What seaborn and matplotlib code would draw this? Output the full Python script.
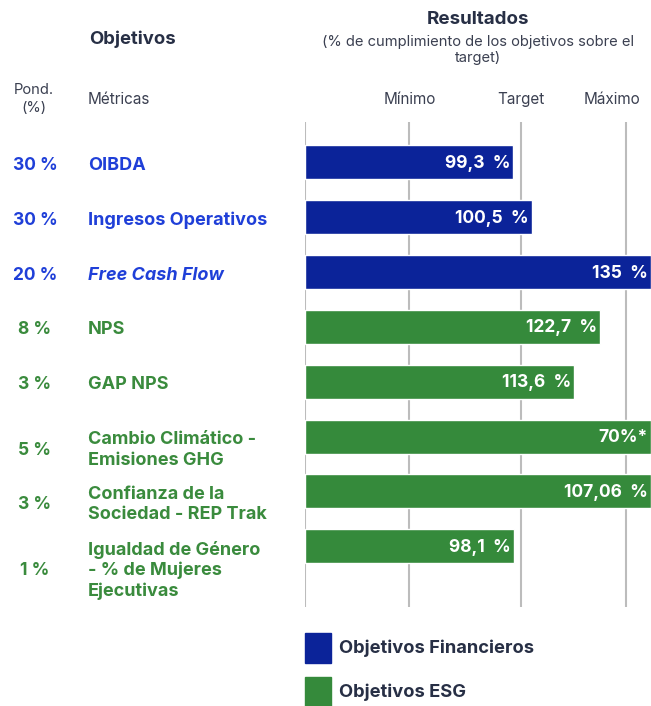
import numpy as np
import pandas as pd
import matplotlib
matplotlib.use("Agg")
import matplotlib.pyplot as plt
from matplotlib.patches import Rectangle
from matplotlib.transforms import blended_transform_factory, ScaledTranslation
import seaborn as sns

# ---- data -------------------------------------------------------------
metricas = [
    "OIBDA",
    "Ingresos Operativos",
    "Free Cash Flow",
    "NPS",
    "GAP NPS",
    "Cambio Climático -\nEmisiones GHG",
    "Confianza de la\nSociedad - REP Trak",
    "Igualdad de Género\n- % de Mujeres\nEjecutivas",
]
ponderacion = [30, 30, 20, 8, 3, 5, 3, 1]
grupo = ["Objetivos Financieros"] * 3 + ["Objetivos ESG"] * 5
# result as % of target
resultado = [99.3, 100.5, 135, 122.7, 113.6, 70, 107.06, 98.1]
nota = ["", "", "", "", "", "*", "", ""]
# payout thresholds per metric (% of target); emissions: lower is better
umbral_min = [90, 95, 80, 80, 80, 110, 95, 70]
umbral_max = [110, 105, 120, 130, 127, 90, 105, 110]
escala = ["Mínimo", "Target", "Máximo"]

# ---- layout (pixels of a 651 x 706 canvas) -----------------------------
W, H = 651, 706
AX_LEFT, AX_TOP, AX_BOTTOM = 305, 122, 607
GRID_POS = [0, 104, 216, 321]      # base, Mínimo, Target, Máximo
X_END = W - AX_LEFT                 # bars past Máximo run to the edge

C_NAVY = "#272f45"
C_GREY = "#3b4051"
C_BLUE_TXT = "#1f3fd8"
C_GREEN_TXT = "#3a8b3d"
C_BAR = {"Objetivos Financieros": "#0b2399", "Objetivos ESG": "#358a3b"}
C_GRID = "#bcbcbc"


def posicion(v, lo, hi):
    """Place a result on the Mínimo/Target/Máximo scale of its metric."""
    sign = 1 if hi > lo else -1
    return float(np.interp(sign * v, [sign * lo, sign * 100, sign * hi],
                           GRID_POS[1:], left=GRID_POS[0], right=X_END))


df = pd.DataFrame({
    "metrica": metricas,
    "grupo": grupo,
    "pos": [posicion(v, lo, hi) for v, lo, hi in zip(resultado, umbral_min, umbral_max)],
})

sns.set_style("white")
plt.rcParams["font.family"] = ["Inter", "DejaVu Sans"]

fig = plt.figure(figsize=(W / 100, H / 100), dpi=100)
fig.patch.set_facecolor("white")


def fx(x):
    return x / W


def fy(y):
    return 1 - y / H


def px(n):
    """Offset of n pixels in inches (figure is drawn at 100 dpi)."""
    return n / 100


ax = fig.add_axes([fx(AX_LEFT), fy(AX_BOTTOM), (W - AX_LEFT) / W,
                   (AX_BOTTOM - AX_TOP) / H])

# guide lines behind the bars
for g in GRID_POS:
    ax.axvline(g, color=C_GRID, lw=1.5, zorder=0)

sns.barplot(data=df, y="metrica", x="pos", hue="grupo", order=metricas,
            palette=C_BAR, dodge=False, width=0.62, saturation=1,
            legend=False, ax=ax, zorder=2)

ax.set_xlim(0, X_END)
pitch = 54.85
first = 162.3
ax.set_ylim((AX_BOTTOM - first) / pitch, (AX_TOP - first) / pitch)
ax.set_axis_off()

# value labels inside the bar ends
shift_left = ScaledTranslation(-px(3), -px(1), fig.dpi_scale_trans)
for i, (v, n, p) in enumerate(zip(resultado, nota, df["pos"])):
    num = f"{v:g}".replace(".", ",")
    txt = f"{num}%{n}" if n else f"{num}  %"
    ax.text(p, i, txt, ha="right", va="center", color="white",
            fontsize=12.5, fontweight="bold", zorder=3,
            transform=ax.transData + shift_left)

# left-hand columns: weight and metric name
line_px = 21
trans_left = blended_transform_factory(fig.transFigure, ax.transData)
for i, (m, w, g) in enumerate(zip(metricas, ponderacion, grupo)):
    n_lines = m.count("\n") + 1
    col = C_BLUE_TXT if g == "Objetivos Financieros" else C_GREEN_TXT
    down = ScaledTranslation(0, -px((n_lines - 1) * line_px / 2 + 3),
                             fig.dpi_scale_trans)
    style = "italic" if m == "Free Cash Flow" else "normal"
    ax.text(fx(88), i, m, ha="left", va="center", color=col, fontsize=13,
            fontweight="bold", fontstyle=style, linespacing=1.24,
            transform=trans_left + down, clip_on=False)
    ax.text(fx(35), i, f"{w} %", ha="center", va="center", color=col,
            fontsize=12.5, fontweight="bold", transform=trans_left + down,
            clip_on=False)

# headers
fig.text(fx(132), fy(39), "Objetivos", ha="center", va="center",
         color=C_NAVY, fontsize=13.3, fontweight="bold")
fig.text(fx(478), fy(20), "Resultados", ha="center", va="center",
         color=C_NAVY, fontsize=13.5, fontweight="bold")
fig.text(fx(478), fy(50),
         "(% de cumplimiento de los objetivos sobre el\ntarget)",
         ha="center", va="center", color=C_GREY, fontsize=10.6,
         linespacing=1.22)
fig.text(fx(34), fy(99), "Pond.\n(%)", ha="center", va="center",
         color=C_GREY, fontsize=10.6, linespacing=1.3)
fig.text(fx(88), fy(104), "Métricas", ha="left", va="baseline",
         color=C_GREY, fontsize=11)
for lab, xc in zip(escala, [409.5, 520.5, 612]):
    fig.text(fx(xc), fy(104), lab, ha="center", va="baseline",
             color=C_GREY, fontsize=11)

# legend
for lab, yc in zip(["Objetivos Financieros", "Objetivos ESG"], [648, 692]):
    fig.patches.append(Rectangle((fx(305), fy(yc + 15)), 26 / W, 30 / H,
                                 transform=fig.transFigure,
                                 color=C_BAR[lab], figure=fig))
    fig.text(fx(339), fy(yc), lab, ha="left", va="center", color=C_NAVY,
             fontsize=13.2, fontweight="bold")

fig.savefig("out.png", dpi=100)
